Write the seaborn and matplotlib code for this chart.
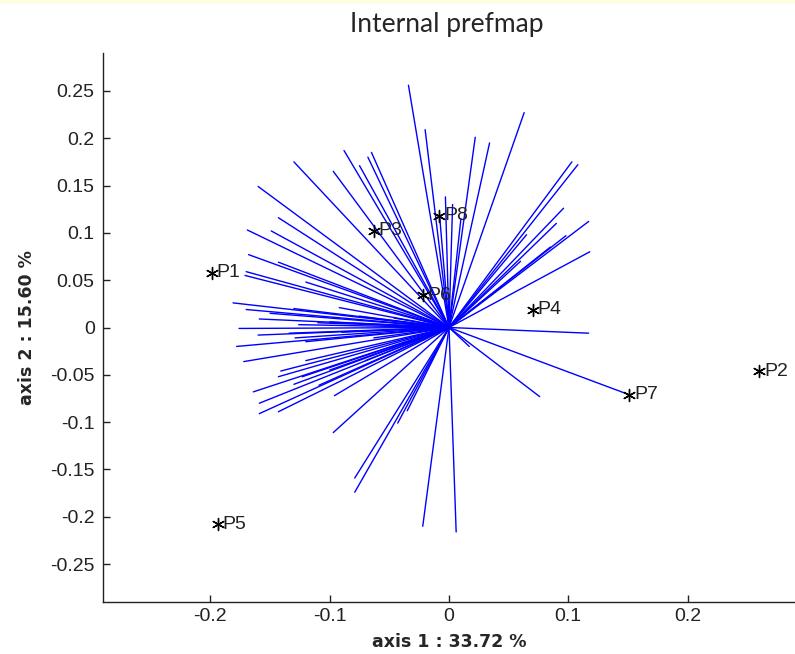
import numpy as np
import pandas as pd
import matplotlib
matplotlib.use("Agg")
import matplotlib.pyplot as plt
import seaborn as sns
from matplotlib.patches import Rectangle

# product positions (axis 1, axis 2)
products = ["P1", "P2", "P3", "P4", "P5", "P6", "P7", "P8"]
prod_x = [-0.199, 0.260, -0.063, 0.070, -0.194, -0.022, 0.151, -0.008]
prod_y = [0.058, -0.046, 0.102, 0.019, -0.208, 0.034, -0.071, 0.118]

# consumer vector end points
cons_x = [
    # upper / upper right
    -0.034, -0.020, 0.022, 0.034, -0.003, 0.003, 0.063, 0.103, 0.108, 0.096,
    0.117, 0.098, 0.118, 0.065, 0.085, 0.060, 0.090, -0.008, 0.010,
    # upper left
    -0.088, -0.068, -0.065, -0.075, -0.097, -0.130, -0.160, -0.143, -0.169, -0.149,
    -0.168, -0.143, -0.170, -0.171, -0.120, -0.181, -0.092, -0.159, -0.176, -0.178,
    # left, near horizontal
    -0.170, -0.126, -0.100, -0.134, -0.063, -0.075, -0.046, -0.129,
    -0.150, -0.130, -0.110, -0.160, -0.120, -0.090,
    # lower left
    -0.172, -0.141, -0.143, -0.164, -0.159, -0.159, -0.143, -0.096, -0.097, -0.043,
    -0.035, -0.079, -0.079, -0.022, 0.006, -0.123, -0.109,
    -0.120, -0.100, -0.130, -0.070,
    # right / lower right
    0.151, 0.117, 0.076, 0.017,
]
cons_y = [
    0.256, 0.209, 0.201, 0.195, 0.138, 0.130, 0.227, 0.175, 0.172, 0.126,
    0.112, 0.097, 0.080, 0.098, 0.085, 0.070, 0.110, 0.120, 0.115,
    0.187, 0.180, 0.185, 0.171, 0.165, 0.175, 0.149, 0.116, 0.103, 0.102,
    0.077, 0.069, 0.059, 0.055, 0.048, 0.026, 0.021, 0.009, -0.001, -0.020,
    0.019, 0.003, 0.006, -0.006, -0.011, 0.012, 0.010, -0.011,
    0.015, 0.020, 0.005, -0.008, -0.015, -0.005,
    -0.036, -0.046, -0.052, -0.068, -0.080, -0.091, -0.089, -0.072, -0.111, -0.101,
    -0.088, -0.159, -0.174, -0.210, -0.216, -0.052, -0.061,
    -0.035, -0.045, -0.060, -0.035,
    -0.071, -0.006, -0.073, -0.020,
]

x_ticks = [-0.2, -0.1, 0, 0.1, 0.2]
y_ticks = [-0.25, -0.2, -0.15, -0.1, -0.05, 0, 0.05, 0.1, 0.15, 0.2, 0.25]

# each vector goes from the origin to its end point
rows = []
for i in range(len(cons_x)):
    rows.append({"id": i, "step": 0, "x": 0.0, "y": 0.0})
    rows.append({"id": i, "step": 1, "x": cons_x[i], "y": cons_y[i]})
vec_df = pd.DataFrame(rows)

prod_df = pd.DataFrame({"name": products, "x": prod_x, "y": prod_y})

sns.set_style("white")
plt.rcParams["font.family"] = ["Liberation Sans", "DejaVu Sans"]

fig = plt.figure(figsize=(7.95, 6.54), dpi=100)
fig.patches.append(Rectangle((0, 0.994), 1, 0.006, transform=fig.transFigure,
                             facecolor="#fdfde0", edgecolor="none"))

ax = fig.add_axes([103 / 795, 52 / 654, 692 / 795, 549 / 654])

sns.lineplot(
    data=vec_df, x="x", y="y", units="id", estimator=None, sort=False,
    color="#0000ff", linewidth=1.0, ax=ax
)

sns.scatterplot(
    data=prod_df, x="x", y="y", marker=(6, 2, 0), s=75,
    color="black", linewidth=1.0, ax=ax, zorder=5
)

for i in range(len(products)):
    ax.text(prod_x[i] + 0.004, prod_y[i], products[i],
            fontsize=14, va="center", ha="left", color="#222222")

ax.set_xlim(-0.29, 0.29)
ax.set_ylim(-0.29, 0.29)
ax.set_xticks(x_ticks)
ax.set_yticks(y_ticks)
ax.set_xticklabels([f"{v:g}" for v in x_ticks])
ax.set_yticklabels([f"{v:g}" for v in y_ticks])

ax.tick_params(bottom=True, left=True, top=False, right=False)
ax.tick_params(direction="in", length=5, width=1, labelsize=14,
               colors="#222222", pad=6)
ax.tick_params(axis="x", pad=4)

for side in ["top", "right"]:
    ax.spines[side].set_visible(False)
for side in ["left", "bottom"]:
    ax.spines[side].set_color("#222222")
    ax.spines[side].set_linewidth(1.0)

ax.set_xlabel("axis 1 : 33.72 %", fontsize=12.5, fontweight="bold",
              family=["DejaVu Sans"], labelpad=6)
ax.set_ylabel("axis 2 : 15.60 %", fontsize=12.5, fontweight="bold",
              family=["DejaVu Sans"], labelpad=10)

fig.text(0.562, 0.962, "Internal prefmap", fontsize=19, ha="center",
         va="center", family=["Lato", "DejaVu Sans"])

fig.savefig("out.png", dpi=100)
